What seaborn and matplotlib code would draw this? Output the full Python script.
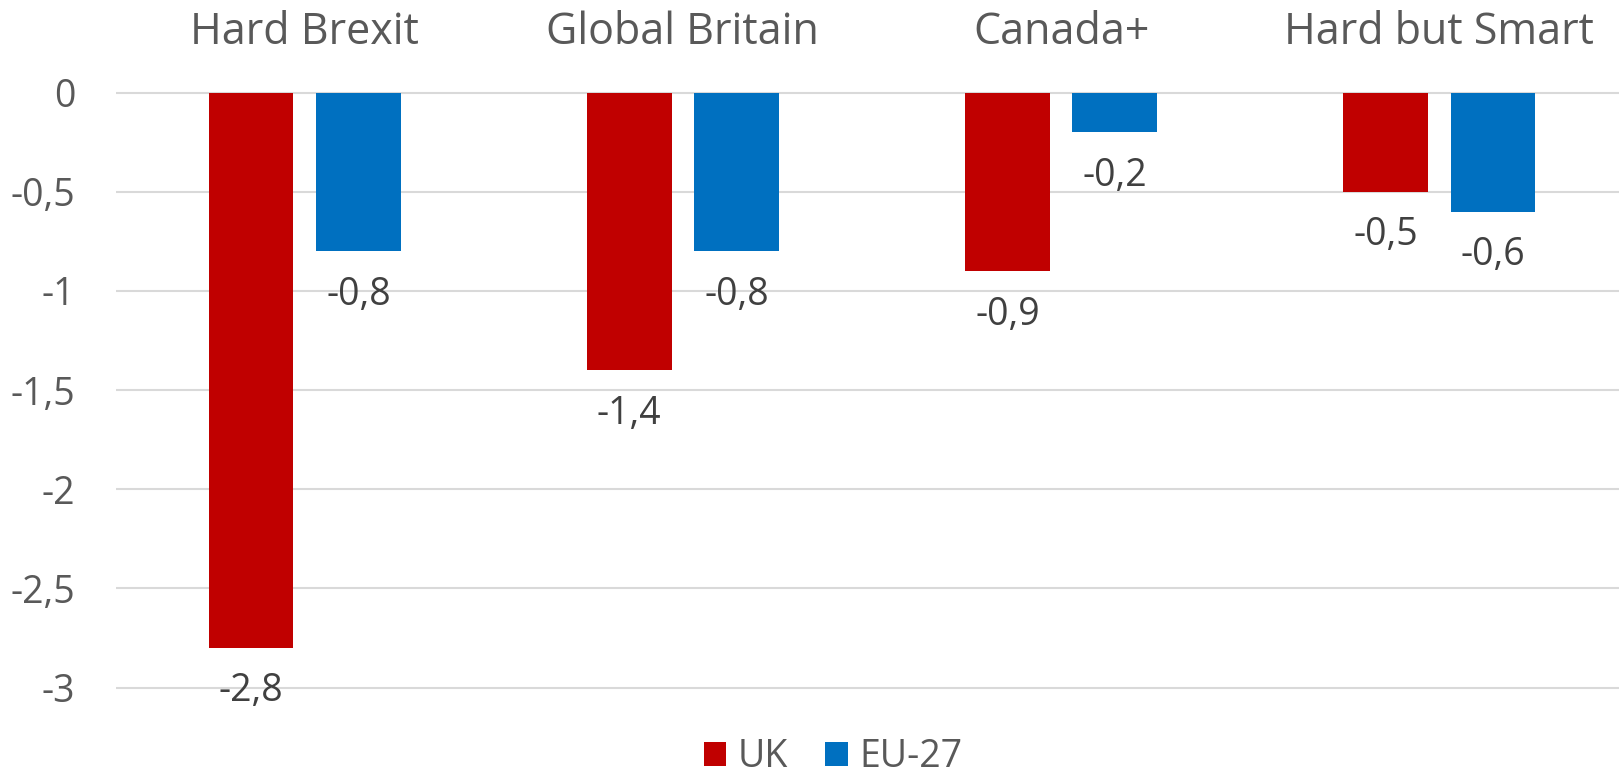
import numpy as np
import pandas as pd
import matplotlib
matplotlib.use("Agg")
import matplotlib.pyplot as plt
from matplotlib.ticker import FuncFormatter, MultipleLocator
from matplotlib.patches import Patch
import seaborn as sns

# --- data ---
scenarios = ["Hard Brexit", "Global Britain", "Canada+", "Hard but Smart"]
regions = ["UK", "EU-27"]
uk_values = [-2.8, -1.4, -0.9, -0.5]
eu_values = [-0.8, -0.8, -0.2, -0.6]

colors = {"UK": "#C00000", "EU-27": "#0070C0"}

df = pd.DataFrame({
    "scenario": scenarios * 2,
    "region": ["UK"] * len(scenarios) + ["EU-27"] * len(scenarios),
    "value": uk_values + eu_values,
})

sns.set_style("white")
plt.rcParams["font.family"] = ["Open Sans", "DejaVu Sans"]

fig = plt.figure(figsize=(16.19, 7.74), dpi=100)
ax = fig.add_axes([0.0714, 0.0859, 0.9286, 0.8201])

sns.barplot(
    data=df, x="scenario", y="value", hue="region",
    order=scenarios, hue_order=regions,
    palette=colors, saturation=1,
    width=0.568, gap=0.211, linewidth=0,
    legend=False, ax=ax,
)

ax.set_xlim(-0.5, 3.475)
ax.set_ylim(-3.1, 0.1)
ax.yaxis.set_major_locator(MultipleLocator(0.5))


def comma_fmt(v, pos=None):
    s = f"{v:g}" if abs(v - round(v)) > 1e-9 else f"{int(round(v))}"
    return s.replace(".", ",")


ax.yaxis.set_major_formatter(FuncFormatter(comma_fmt))
ax.grid(axis="y", color="#D9D9D9", linewidth=1.5)
ax.grid(axis="x", visible=False)
ax.set_axisbelow(True)
for sp in ax.spines.values():
    sp.set_visible(False)

ax.xaxis.tick_top()
ax.tick_params(axis="x", length=0, pad=13, labelsize=31, labelcolor="#595959")
ax.tick_params(axis="y", length=0, pad=29, labelsize=27, labelcolor="#595959")
ax.set_xlabel("")
ax.set_ylabel("")

# value labels below each bar
for container in ax.containers:
    for bar in container:
        h = bar.get_height()
        ax.annotate(
            comma_fmt(round(h, 1)),
            (bar.get_x() + bar.get_width() / 2, h),
            xytext=(0, -38.5), textcoords="offset points",
            ha="center", va="baseline", fontsize=27, color="#404040",
            annotation_clip=False,
        )

handles = [Patch(facecolor=colors[r], edgecolor="none", label=r) for r in regions]
fig.legend(
    handles=handles, loc="center", bbox_to_anchor=(0.5145, 0.022),
    ncol=2, frameon=False, fontsize=27, labelcolor="#595959",
    handlelength=0.6, handleheight=0.6, handletextpad=0.3, columnspacing=1.0,
)

fig.savefig("out.png", dpi=100)
plt.close(fig)
